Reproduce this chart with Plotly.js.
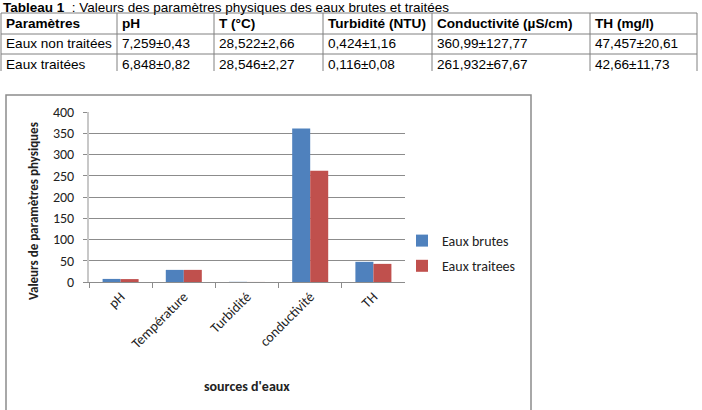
<!DOCTYPE html>
<html>
<head>
<meta charset="utf-8">
<script src="https://cdn.plot.ly/plotly-3.0.1.min.js"></script>
<style>html,body{margin:0;padding:0;background:#fff;}#chart{width:702px;height:410px;}</style>
</head>
<body>
<div id="chart"></div>
<script>
// ---- Data ----
const categories = ['pH', 'Température', 'Turbidité', 'conductivité', 'TH'];
const eauxBrutes = [7.259, 28.522, 0.424, 360.99, 47.457];
const eauxTraitees = [6.848, 28.546, 0.116, 261.932, 42.66];
const seriesNames = ['Eaux brutes', 'Eaux traitees'];

const tableTitleBold = 'Tableau 1';
const tableTitleRest = '  : Valeurs des paramètres physiques des eaux brutes et traitées';
const tableHeader = ['Paramètres', 'pH', 'T (°C)', 'Turbidité (NTU)', 'Conductivité (µS/cm)', 'TH (mg/l)'];
const rowNonTraitees = ['Eaux non traitées', '7,259±0,43', '28,522±2,66', '0,424±1,16', '360,99±127,77', '47,457±20,61'];
const rowTraitees = ['Eaux traitées', '6,848±0,82', '28,546±2,27', '0,116±0,08', '261,932±67,67', '42,66±11,73'];

const yTitle = 'Valeurs de paramètres physiques';
const xTitle = "sources d'eaux";

// ---- Layout helpers (pixel -> paper, margins are 0) ----
const W = 702, H = 410;
const px = x => x / W;
const py = y => 1 - y / H;

const chartFont = 'Carlito, Lato, "Open Sans", sans-serif';
const tableFont = '"Liberation Sans", Arial, sans-serif';

// table geometry (pixels)
const colEdges = [1, 117, 214, 323, 432, 590, 697];
const rowEdges = [13, 34, 54, 74];
const lineBottom = 71;
const tableRows = [tableHeader, rowNonTraitees, rowTraitees];

const shapes = [];
const annotations = [];

// table grid lines
for (let r = 0; r < rowEdges.length - 1; r++) {
  shapes.push({type: 'line', xref: 'paper', yref: 'paper', x0: px(colEdges[0]), x1: px(colEdges[colEdges.length - 1]),
    y0: py(rowEdges[r]), y1: py(rowEdges[r]), line: {color: '#808080', width: 1}});
}
colEdges.forEach(x => shapes.push({type: 'line', xref: 'paper', yref: 'paper', x0: px(x), x1: px(x),
  y0: py(rowEdges[0]), y1: py(lineBottom), line: {color: '#808080', width: 1}}));

// table text
tableRows.forEach((row, r) => {
  row.forEach((txt, c) => {
    annotations.push({xref: 'paper', yref: 'paper', x: px(colEdges[c] + 3), y: py((rowEdges[r] + rowEdges[r + 1]) / 2),
      xanchor: 'left', yanchor: 'middle', showarrow: false,
      text: r === 0 ? '<b>' + txt + '</b>' : txt,
      font: {family: tableFont, size: 13.6, color: '#000'}});
  });
});

// chart frame
shapes.push({type: 'rect', xref: 'paper', yref: 'paper', x0: px(6), x1: px(531), y0: py(430), y1: py(95),
  line: {color: '#8c8c8c', width: 1.5}, fillcolor: 'rgba(0,0,0,0)', layer: 'below'});

annotations.push(
  {xref: 'paper', yref: 'paper', x: px(1), y: py(-2), xanchor: 'left', yanchor: 'top',
   showarrow: false, text: '<b>' + tableTitleBold + '</b>' + tableTitleRest,
   font: {family: tableFont, size: 13.5, color: '#000'}},
  {xref: 'paper', yref: 'paper', x: px(33), y: py(211), xanchor: 'center', yanchor: 'middle',
   showarrow: false, textangle: -90, text: '<b>' + yTitle + '</b>',
   font: {family: chartFont, size: 13, color: '#222'}},
  {xref: 'paper', yref: 'paper', x: px(247), y: py(386), xanchor: 'center', yanchor: 'middle',
   showarrow: false, text: '<b>' + xTitle + '</b>',
   font: {family: chartFont, size: 14, color: '#222'}}
);

const traces = [
  {type: 'bar', name: seriesNames[0], x: categories, y: eauxBrutes,
   marker: {color: '#4F81BD'}, legendgroup: 'a'},
  {type: 'bar', name: seriesNames[1], x: categories, y: eauxTraitees,
   marker: {color: '#C0504D'}, legendgroup: 'b'}
];

const layout = {
  width: W, height: H,
  margin: {l: 0, r: 0, t: 0, b: 0},
  paper_bgcolor: '#fff', plot_bgcolor: '#fff',
  barmode: 'group', bargap: 0.43, bargroupgap: 0,
  font: {family: chartFont, size: 13, color: '#222'},
  xaxis: {
    domain: [px(89), px(405)],
    type: 'category',
    showline: true, linecolor: '#8c8c8c', linewidth: 1,
    ticks: 'outside', tickson: 'boundaries', ticklen: 5, tickcolor: '#8c8c8c',
    tickangle: -45, tickfont: {family: chartFont, size: 14, color: '#222'},
    showgrid: false, zeroline: false, fixedrange: true
  },
  yaxis: {
    domain: [py(282), py(112)],
    range: [0, 400], dtick: 50,
    showline: true, linecolor: '#c8c8c8', linewidth: 2,
    ticks: 'outside', ticklen: 4, tickcolor: '#8c8c8c',
    showgrid: true, gridcolor: '#8c8c8c', gridwidth: 1,
    zeroline: false, ticklabelstandoff: 6,
    tickfont: {family: chartFont, size: 14, color: '#222'}, fixedrange: true
  },
  showlegend: true,
  legend: {
    x: px(402), y: py(225), xanchor: 'left', yanchor: 'top',
    font: {family: chartFont, size: 14, color: '#222'},
    tracegroupgap: 4, bgcolor: 'rgba(0,0,0,0)'
  },
  shapes: shapes,
  annotations: annotations
};

Plotly.newPlot('chart', traces, layout, {displayModeBar: false, staticPlot: true});
</script>
</body>
</html>
